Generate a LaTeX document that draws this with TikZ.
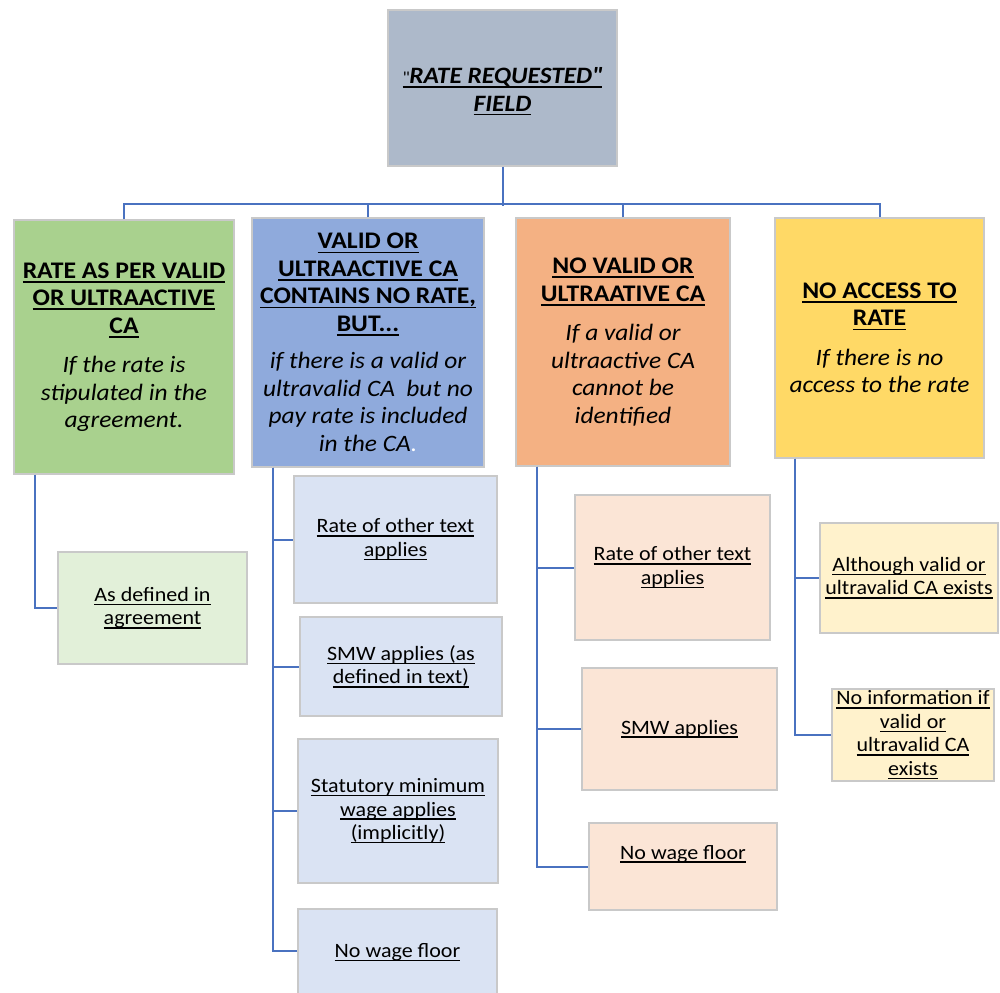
\documentclass[tikz,border=0pt]{standalone}
\usepackage{fontspec}
\setmainfont{Carlito}[FakeStretch=1.08]
\newsavebox{\ulinbox}
\newcommand{\ulin}[1]{\sbox{\ulinbox}{#1}\leavevmode\rlap{\rule[-0.19em]{\wd\ulinbox}{0.075em}}\usebox{\ulinbox}}
\newcommand{\straightq}{\XeTeXglyph\the\XeTeXcharglyph"22\relax}
\definecolor{conncol}{HTML}{4A72C0}
\definecolor{edgecol}{HTML}{C9C9C9}
\definecolor{topfill}{HTML}{ADB9CA}
\definecolor{gfill}{HTML}{A9D18E}
\definecolor{bfill}{HTML}{8FAADC}
\definecolor{ofill}{HTML}{F4B183}
\definecolor{yfill}{HTML}{FFD966}
\definecolor{glight}{HTML}{E2F0D9}
\definecolor{blight}{HTML}{DAE3F3}
\definecolor{olight}{HTML}{FBE5D6}
\definecolor{ylight}{HTML}{FFF2CC}
\newcommand{\hdf}{\fontsize{23.8}{27.5}\selectfont\bfseries}
\newcommand{\itf}{\fontsize{23.5}{27.5}\selectfont\mdseries\itshape}
\tikzset{
  box/.style={draw=edgecol, line width=1.2pt, inner sep=0pt, align=center},
  headbox/.style={box, font=\fontsize{23.5}{27.5}\selectfont},
  childbox/.style={box, font=\fontsize{20.4}{23.5}\selectfont},
  conn/.style={draw=conncol, line width=2pt}
}
\begin{document}
\begin{tikzpicture}[x=1pt,y=-1pt]
\clip (0,0) rectangle (1000,992);
\fill[white] (0,0) rectangle (1000,992);

% top
\node[headbox, fill=topfill, minimum width=229pt, minimum height=156pt] (top) at (502.5,88)
  {\rule{0pt}{23pt}\ulin{{\mdseries\upshape\fontsize{17}{20}\selectfont\straightq}\textbf{\textit{RATE REQUESTED\straightq}}}\\ \ulin{\textbf{\textit{FIELD}}}};

% level 1
\node[headbox, fill=gfill, minimum width=220pt, minimum height=254pt] (green) at (124,347)
  {{\hdf\ulin{RATE AS PER VALID}}\\{\hdf\ulin{OR ULTRAACTIVE}}\\{\hdf\ulin{CA}}\\[12pt]
   {\itf If the rate is}\\{\itf stipulated in the}\\{\itf agreement.}};
\node[headbox, fill=bfill, minimum width=232pt, minimum height=249pt] (blue) at (368,342.5)
  {{\hdf\ulin{VALID OR}}\\{\hdf\ulin{ULTRAACTIVE CA}}\\{\hdf\ulin{CONTAINS NO RATE,}}\\{\hdf\ulin{BUT...}}\\[10pt]
   {\itf if there is a valid or}\\{\itf ultravalid CA\ \ but no}\\{\itf pay rate is included}\\{\itf in the CA{\color{white}.}}};
\node[headbox, fill=ofill, minimum width=214pt, minimum height=248pt] (orange) at (623,342)
  {{\hdf\ulin{NO VALID OR}}\\{\hdf\ulin{ULTRAATIVE CA}}\\[12pt]
   {\itf If a valid or}\\{\itf ultraactive CA}\\{\itf cannot be}\\{\itf identified}};
\node[headbox, fill=yfill, minimum width=209pt, minimum height=240pt] (yellow) at (879.5,338)
  {{\hdf\ulin{NO ACCESS TO}}\\{\hdf\ulin{RATE}}\\[12pt]
   {\itf If there is no}\\{\itf access to the rate}};

% children
\node[childbox, fill=glight, minimum width=189pt, minimum height=112pt] (gc1) at (152.5,608)
  {\ulin{As defined in}\\ \ulin{agreement}};

\node[childbox, fill=blight, minimum width=203pt, minimum height=127pt] (bc1) at (395.5,539.5)
  {\ulin{Rate of other text}\\ \ulin{applies}};
\node[childbox, fill=blight, minimum width=202pt, minimum height=99pt] (bc2) at (401,666.5)
  {\ulin{SMW applies (as}\\ \ulin{defined in text)}};
\node[childbox, fill=blight, minimum width=200pt, minimum height=144pt] (bc3) at (398,811)
  {\ulin{Statutory minimum}\\ \ulin{wage applies}\\ \ulin{(implicitly)}};
\node[childbox, fill=blight, minimum width=199pt, minimum height=91pt] (bc4) at (397.5,954.5)
  {\raisebox{8pt}{\ulin{No wage floor}}};

\node[childbox, fill=olight, minimum width=195pt, minimum height=145pt] (oc1) at (672.5,567.5)
  {\ulin{Rate of other text}\\ \ulin{applies}};
\node[childbox, fill=olight, minimum width=195pt, minimum height=122pt] (oc2) at (679.5,729)
  {\ulin{SMW applies}};
\node[childbox, fill=olight, minimum width=188pt, minimum height=87pt] (oc3) at (683,866.5)
  {\raisebox{29pt}{\ulin{No wage floor}}};

\node[childbox, fill=ylight, minimum width=178pt, minimum height=110pt] (yc1) at (909,578)
  {\ulin{Although valid or}\\ \ulin{ultravalid CA exists}};
\node[childbox, fill=ylight, minimum width=162pt, minimum height=92pt] (yc2) at (913,735)
  {\ulin{No information if}\\ \ulin{valid or}\\ \ulin{ultravalid CA}\\ \ulin{exists}};

% connectors top
\draw[conn] (top.south) -- ++(0,39);
\draw[conn] (green.north) -- ++(0,-15) -| (yellow.north);
\draw[conn] (blue.north) -- ++(0,-13);
\draw[conn] (orange.north) -- ++(0,-13);

% connectors children
\draw[conn] ([xshift=22pt]green.south west) |- (gc1.west);
\draw[conn] ([xshift=22pt]blue.south west) |- (bc1.west);
\draw[conn] ([xshift=22pt]blue.south west) |- (bc2.west);
\draw[conn] ([xshift=22pt]blue.south west) |- (bc3.west);
\draw[conn] ([xshift=22pt]blue.south west) |- ([yshift=3.5pt]bc4.west);
\draw[conn] ([xshift=22pt]orange.south west) |- (oc1.west);
\draw[conn] ([xshift=22pt]orange.south west) |- (oc2.west);
\draw[conn] ([xshift=22pt]orange.south west) |- (oc3.west);
\draw[conn] ([xshift=21pt]yellow.south west) |- (yc1.west);
\draw[conn] ([xshift=21pt]yellow.south west) |- (yc2.west);
\end{tikzpicture}
\end{document}
